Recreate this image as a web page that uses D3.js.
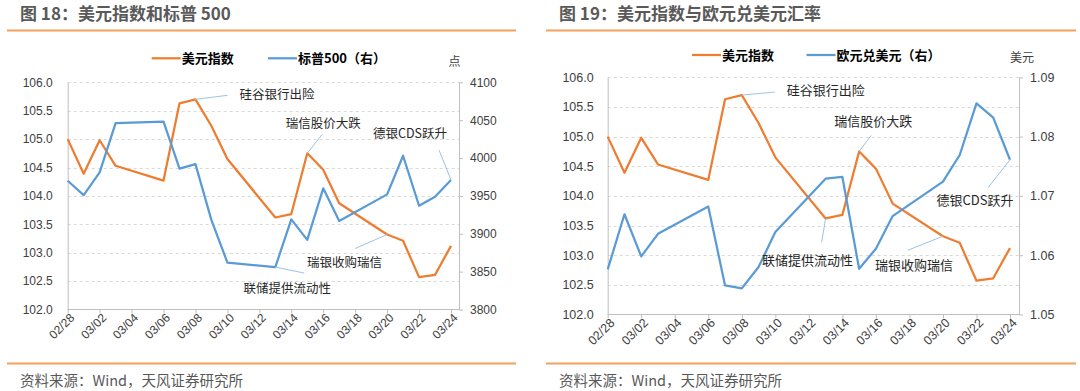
<!DOCTYPE html>
<html>
<head>
<meta charset="utf-8">
<script src="https://cdn.jsdelivr.net/npm/d3@7"></script>
<style>
  body { margin: 0; background: #fff; }
  svg { display: block; }
  .num { font-family: "Liberation Sans", Arial, sans-serif; }
  .cn { font-family: "Noto Sans CJK SC", "Liberation Sans", sans-serif; }
</style>
</head>
<body>
<svg id="chart" width="1080" height="391"></svg>
<script>
// trading days, 2023
const dates = ["02/28","03/01","03/02","03/03","03/06","03/07","03/08","03/09","03/10",
  "03/13","03/14","03/15","03/16","03/17","03/20","03/21","03/22","03/23","03/24"];

const dollarIndex = [105.00,104.39,104.98,104.53,104.27,105.63,105.70,105.23,104.65,
  103.62,103.68,104.75,104.46,103.87,103.32,103.21,102.57,102.61,103.12];

const sp500 = [3970,3951,3981,4046,4048,3986,3992,3918,3862,
  3856,3919,3892,3960,3917,3952,4003,3937,3949,3971];

const eurUsd = [1.0576,1.0669,1.0598,1.0636,1.0682,1.0549,1.0544,1.0580,1.0639,
  1.0729,1.0732,1.0577,1.0611,1.0666,1.0724,1.0769,1.0856,1.0832,1.0761];

const tickLabels = ["02/28","03/02","03/04","03/06","03/08","03/10","03/12",
  "03/14","03/16","03/18","03/20","03/22","03/24"];
const dxyTicks = [102,102.5,103,103.5,104,104.5,105,105.5,106];
const spTicks = [3800,3850,3900,3950,4000,4050,4100];
const eurTicks = [1.05,1.06,1.07,1.08,1.09];

const eventNames = ["硅谷银行出险","瑞信股价大跌","德银CDS跃升","瑞银收购瑞信","联储提供流动性"];
const eventDates = ["03/08","03/15","03/24","03/20","03/13"];

const parse = d3.utcParse("%Y/%m/%d");
const toDate = s => parse("2023/" + s);

const svg = d3.select("#chart");
svg.append("rect").attr("width", 1080).attr("height", 391).attr("fill", "#fff");

const ORANGE = "#ED7D31", BLUE = "#5B9BD5", RULE = "#F4A15D";

function drawPanel(cfg) {
  const g = svg.append("g");

  // heading + rules + source
  g.append("text").attr("class", "cn")
    .attr("x", cfg.titleX).attr("y", 20)
    .attr("font-size", 17).attr("font-weight", 700).attr("fill", "#595959")
    .text(cfg.title);
  g.append("line").attr("x1", cfg.ruleX0).attr("x2", cfg.ruleX1).attr("y1", 30.5).attr("y2", 30.5)
    .attr("stroke", RULE).attr("stroke-width", 2);
  g.append("line").attr("x1", cfg.ruleX0).attr("x2", cfg.ruleX1).attr("y1", 363.5).attr("y2", 363.5)
    .attr("stroke", RULE).attr("stroke-width", 2);
  g.append("text").attr("class", "cn")
    .attr("x", cfg.titleX).attr("y", 385.5)
    .attr("font-size", 14.5).attr("fill", "#595959")
    .text("资料来源：Wind，天风证券研究所");

  const x = d3.scaleUtc()
    .domain([toDate(dates[0]), toDate(dates[dates.length - 1])])
    .range([cfg.left, cfg.lastX]);
  const yL = d3.scaleLinear().domain([102, 106]).range([cfg.bottom, cfg.top]);
  const yR = d3.scaleLinear().domain(d3.extent(cfg.rightTicks)).range([cfg.bottom, cfg.top]);

  // dashed gridlines
  g.append("g").selectAll("line")
    .data(dxyTicks.slice(1))
    .join("line")
    .attr("x1", cfg.left).attr("x2", cfg.right)
    .attr("y1", d => Math.round(yL(d)) + 0.5).attr("y2", d => Math.round(yL(d)) + 0.5)
    .attr("stroke", "#d9d9d9").attr("stroke-dasharray", "3,3");

  // left axis
  const axL = g.append("g")
    .attr("transform", `translate(${cfg.left},0)`)
    .call(d3.axisLeft(yL).tickValues(dxyTicks).tickFormat(d3.format(".1f"))
      .tickSizeInner(0).tickSizeOuter(0).tickPadding(cfg.padL));
  // right axis
  const axR = g.append("g")
    .attr("transform", `translate(${cfg.right},0)`)
    .call(d3.axisRight(yR).tickValues(cfg.rightTicks).tickFormat(cfg.rightFormat)
      .tickSizeInner(4).tickSizeOuter(0).tickPadding(7));
  // bottom axis
  const axB = g.append("g")
    .attr("transform", `translate(0,${cfg.bottom})`)
    .call(d3.axisBottom(x).tickValues(tickLabels.map(toDate))
      .tickFormat(d3.utcFormat("%m/%d")).tickSizeInner(4).tickSizeOuter(0));
  axB.select(".domain").remove();
  g.append("line").attr("x1", cfg.left).attr("x2", cfg.right)
    .attr("y1", cfg.bottom).attr("y2", cfg.bottom).attr("stroke", "#bfbfbf");

  axB.selectAll(".tick text")
    .attr("text-anchor", "end")
    .attr("transform", "translate(4,6) rotate(-45)")
    .attr("y", 0).attr("dy", "0.35em");

  [axL, axR, axB].forEach(a => {
    a.selectAll(".domain, .tick line").attr("stroke", "#bfbfbf");
    a.selectAll(".tick text").attr("class", "num")
      .attr("font-size", cfg.fs).attr("fill", "#404040");
  });

  // series
  const rows = dates.map((d, i) => ({ date: toDate(d), l: dollarIndex[i], r: cfg.rightData[i] }));
  g.append("path").datum(rows)
    .attr("fill", "none").attr("stroke", ORANGE).attr("stroke-width", 2.25)
    .attr("stroke-linejoin", "round")
    .attr("d", d3.line().x(d => x(d.date)).y(d => yL(d.l)));
  g.append("path").datum(rows)
    .attr("fill", "none").attr("stroke", BLUE).attr("stroke-width", 2.25)
    .attr("stroke-linejoin", "round")
    .attr("d", d3.line().x(d => x(d.date)).y(d => yR(d.r)));

  // annotations
  eventNames.forEach((name, i) => {
    const k = dates.indexOf(eventDates[i]);
    const px = x(toDate(eventDates[i]));
    const py = cfg.eventSide[i] === "L" ? yL(dollarIndex[k]) : yR(cfg.rightData[k]);
    const o = cfg.eventOffsets[i];
    g.append("line")
      .attr("x1", px).attr("y1", py).attr("x2", px + o[0]).attr("y2", py + o[1])
      .attr("stroke", "#9DC3E6").attr("stroke-width", 1);
    g.append("text").attr("class", "cn")
      .attr("x", px + o[2]).attr("y", py + o[3]).attr("dy", "0.35em")
      .attr("text-anchor", o[4])
      .attr("font-size", cfg.annFs).attr("fill", "#262626")
      .text(name);
  });

  // legend
  const lg = g.append("g");
  cfg.legend.forEach((item, i) => {
    lg.append("line")
      .attr("x1", item.x).attr("x2", item.x + 29).attr("y1", cfg.legendY).attr("y2", cfg.legendY)
      .attr("stroke", i === 0 ? ORANGE : BLUE).attr("stroke-width", 2.25);
    lg.append("text").attr("class", "cn")
      .attr("x", item.x + 30).attr("y", cfg.legendY).attr("dy", "0.35em")
      .attr("font-size", 13).attr("font-weight", 700).attr("fill", "#000")
      .text(item.label);
  });
  g.append("text").attr("class", "cn")
    .attr("x", cfg.unitX).attr("y", cfg.legendY + 3).attr("dy", "0.35em")
    .attr("text-anchor", "middle")
    .attr("font-size", 12).attr("fill", "#404040")
    .text(cfg.unit);
}

drawPanel({
  title: "图 18：美元指数和标普 500",
  titleX: 20, ruleX0: 7, ruleX1: 516,
  left: 67.7, lastX: 451, right: 459, top: 82.3, bottom: 309.5,
  padL: 15, fs: 12, annFs: 12.5,
  rightTicks: spTicks, rightFormat: d3.format("d"), rightData: sp500,
  eventSide: ["L", "L", "R", "L", "R"],
  eventOffsets: [
    [32, -4, 44, -5, "start"],
    [15, -19, 16, -30, "middle"],
    [-12, -30, -41, -46, "middle"],
    [-32, 14, -42.5, 28.4, "middle"],
    [29, 6, 12, 22, "middle"]
  ],
  legendY: 58.3,
  legend: [{ x: 151.7, label: "美元指数" }, { x: 268, label: "标普500（右）" }],
  unit: "点", unitX: 454.5
});

drawPanel({
  title: "图 19：美元指数与欧元兑美元汇率",
  titleX: 559, ruleX0: 546, ruleX1: 1076,
  left: 607.7, lastX: 1010, right: 1019, top: 77.3, bottom: 314.5,
  padL: 14, fs: 12.5, annFs: 13,
  rightTicks: eurTicks, rightFormat: d3.format(".2f"), rightData: eurUsd,
  eventSide: ["L", "L", "R", "L", "L"],
  eventOffsets: [
    [33, -3, 45, -4.3, "start"],
    [12, -16, 14, -30, "middle"],
    [-22, 28, -35, 41, "middle"],
    [-35, 14, -29, 29, "middle"],
    [-4, 24, -18, 42, "middle"]
  ],
  legendY: 55,
  legend: [{ x: 692, label: "美元指数" }, { x: 806.5, label: "欧元兑美元（右）" }],
  unit: "美元", unitX: 1022
});
</script>
</body>
</html>
